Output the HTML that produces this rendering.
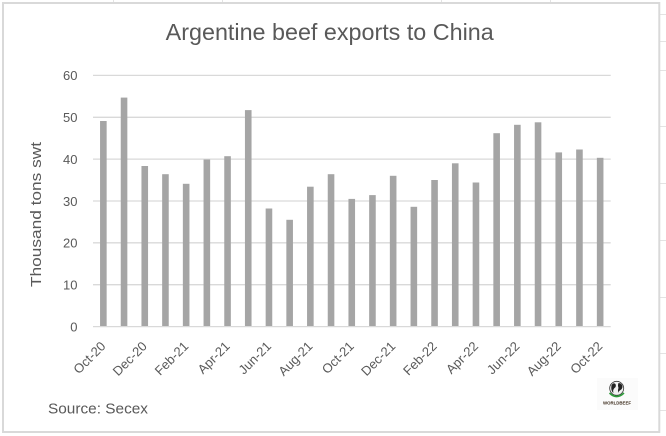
<!DOCTYPE html>
<html>
<head>
<meta charset="utf-8">
<style>
  html, body { margin: 0; padding: 0; background: #ffffff; }
  svg { display: block; }
  text { font-family: "Liberation Sans", Arial, sans-serif; }
</style>
</head>
<body>
<svg width="666" height="436" viewBox="0 0 666 436" xmlns="http://www.w3.org/2000/svg">
  <rect x="0" y="0" width="666" height="436" fill="#ffffff"/>
  <!-- spreadsheet cell lines outside chart -->
  <g stroke="#e3e3e3" stroke-width="1">
    <line x1="113.5" y1="0" x2="113.5" y2="2"/>
    <line x1="222.5" y1="0" x2="222.5" y2="2"/>
    <line x1="441.5" y1="0" x2="441.5" y2="2"/>
    <line x1="550.5" y1="0" x2="550.5" y2="2"/>
    <line x1="660" y1="14.5" x2="666" y2="14.5"/>
    <line x1="660" y1="41.5" x2="666" y2="41.5"/>
    <line x1="660" y1="70.5" x2="666" y2="70.5"/>
    <line x1="660" y1="126.5" x2="666" y2="126.5"/>
    <line x1="660" y1="183.5" x2="666" y2="183.5"/>
    <line x1="660" y1="240.5" x2="666" y2="240.5"/>
    <line x1="660" y1="297.5" x2="666" y2="297.5"/>
    <line x1="660" y1="353.5" x2="666" y2="353.5"/>
    <line x1="660" y1="410.5" x2="666" y2="410.5"/>
  </g>
  <!-- chart frame -->
  <rect x="3" y="3" width="656.3" height="429" fill="#ffffff" stroke="#d9d9d9" stroke-width="2"/>

  <!-- title -->
  <text x="329.7" y="40" font-size="23" fill="#595959" text-anchor="middle" textLength="328" lengthAdjust="spacingAndGlyphs">Argentine beef exports to China</text>

  <!-- gridlines -->
  <g stroke="#d9d9d9" stroke-width="1.3">
    <line x1="93" y1="75.4" x2="610.7" y2="75.4"/>
    <line x1="93" y1="117.3" x2="610.7" y2="117.3"/>
    <line x1="93" y1="159.1" x2="610.7" y2="159.1"/>
    <line x1="93" y1="201" x2="610.7" y2="201"/>
    <line x1="93" y1="242.8" x2="610.7" y2="242.8"/>
    <line x1="93" y1="284.7" x2="610.7" y2="284.7"/>
  </g>

  <!-- y tick labels -->
  <g font-size="13" fill="#595959" text-anchor="end">
    <text x="77.5" y="80.2">60</text>
    <text x="77.5" y="122.1">50</text>
    <text x="77.5" y="163.9">40</text>
    <text x="77.5" y="205.8">30</text>
    <text x="77.5" y="247.6">20</text>
    <text x="77.5" y="289.5">10</text>
    <text x="77.5" y="331.3">0</text>
  </g>

  <!-- y axis title -->
  <text transform="translate(41,214.5) rotate(-90)" font-size="15" fill="#595959" text-anchor="middle" textLength="145" lengthAdjust="spacingAndGlyphs">Thousand tons swt</text>

  <!-- bars -->
  <g fill="#a5a5a5">
    <rect x="100.05" y="121.0" width="6.6" height="205.5"/>
    <rect x="120.75" y="97.6" width="6.6" height="228.9"/>
    <rect x="141.45" y="166.0" width="6.6" height="160.5"/>
    <rect x="162.15" y="174.2" width="6.6" height="152.3"/>
    <rect x="182.85" y="183.8" width="6.6" height="142.7"/>
    <rect x="203.55" y="159.5" width="6.6" height="167.0"/>
    <rect x="224.25" y="156.2" width="6.6" height="170.3"/>
    <rect x="244.95" y="110.1" width="6.6" height="216.4"/>
    <rect x="265.65" y="208.5" width="6.6" height="118.0"/>
    <rect x="286.35" y="219.8" width="6.6" height="106.7"/>
    <rect x="307.05" y="186.7" width="6.6" height="139.8"/>
    <rect x="327.75" y="174.2" width="6.6" height="152.3"/>
    <rect x="348.45" y="198.9" width="6.6" height="127.6"/>
    <rect x="369.15" y="195.1" width="6.6" height="131.4"/>
    <rect x="389.85" y="175.8" width="6.6" height="150.7"/>
    <rect x="410.55" y="206.8" width="6.6" height="119.7"/>
    <rect x="431.25" y="180.0" width="6.6" height="146.5"/>
    <rect x="451.95" y="163.3" width="6.6" height="163.2"/>
    <rect x="472.65" y="182.5" width="6.6" height="144.0"/>
    <rect x="493.35" y="133.2" width="6.6" height="193.3"/>
    <rect x="514.05" y="124.8" width="6.6" height="201.7"/>
    <rect x="534.75" y="122.3" width="6.6" height="204.2"/>
    <rect x="555.45" y="152.4" width="6.6" height="174.1"/>
    <rect x="576.15" y="149.5" width="6.6" height="177.0"/>
    <rect x="596.85" y="157.8" width="6.6" height="168.7"/>
  </g>

  <!-- x axis line -->
  <line x1="93" y1="326.6" x2="610.7" y2="326.6" stroke="#d9d9d9" stroke-width="1.3"/>

  <!-- x labels -->
  <g font-size="13" fill="#595959" text-anchor="end">
    <text transform="translate(106.4,347) rotate(-45)">Oct-20</text>
    <text transform="translate(147.8,347) rotate(-45)">Dec-20</text>
    <text transform="translate(189.2,347) rotate(-45)">Feb-21</text>
    <text transform="translate(230.6,347) rotate(-45)">Apr-21</text>
    <text transform="translate(272.0,347) rotate(-45)">Jun-21</text>
    <text transform="translate(313.4,347) rotate(-45)">Aug-21</text>
    <text transform="translate(354.8,347) rotate(-45)">Oct-21</text>
    <text transform="translate(396.2,347) rotate(-45)">Dec-21</text>
    <text transform="translate(437.6,347) rotate(-45)">Feb-22</text>
    <text transform="translate(479.0,347) rotate(-45)">Apr-22</text>
    <text transform="translate(520.4,347) rotate(-45)">Jun-22</text>
    <text transform="translate(561.8,347) rotate(-45)">Aug-22</text>
    <text transform="translate(603.2,347) rotate(-45)">Oct-22</text>
  </g>

  <!-- source -->
  <text x="48" y="413.3" font-size="15" fill="#595959" textLength="100" lengthAdjust="spacingAndGlyphs">Source: Secex</text>

  <!-- logo -->
  <g>
    <rect x="597" y="378" width="41" height="32" fill="#fbfbfb"/>
    <circle cx="616.7" cy="388.3" r="7" fill="#f2f2f2" stroke="#333" stroke-width="0.8"/>
    <path d="M611.5 385 q2 -3 4 -1 q1 3 -1 4 q-2 2 -1 5 q-3 -2 -2 -8z" fill="#222"/>
    <path d="M618.5 383 q3 0 4 3 q0 3 -2 4 q-2 1 -2 3 q-1 -3 0 -5 q-1 -3 0 -5z" fill="#222"/>
    <path d="M609.5 393 q7 7 14.5 0" fill="none" stroke="#2e9b3a" stroke-width="1.6"/>
    <text x="617" y="404.5" font-size="4.5" font-weight="bold" fill="#3a2a1a" text-anchor="middle" textLength="28" lengthAdjust="spacingAndGlyphs">WORLDBEEF</text>
  </g>
</svg>
</body>
</html>
